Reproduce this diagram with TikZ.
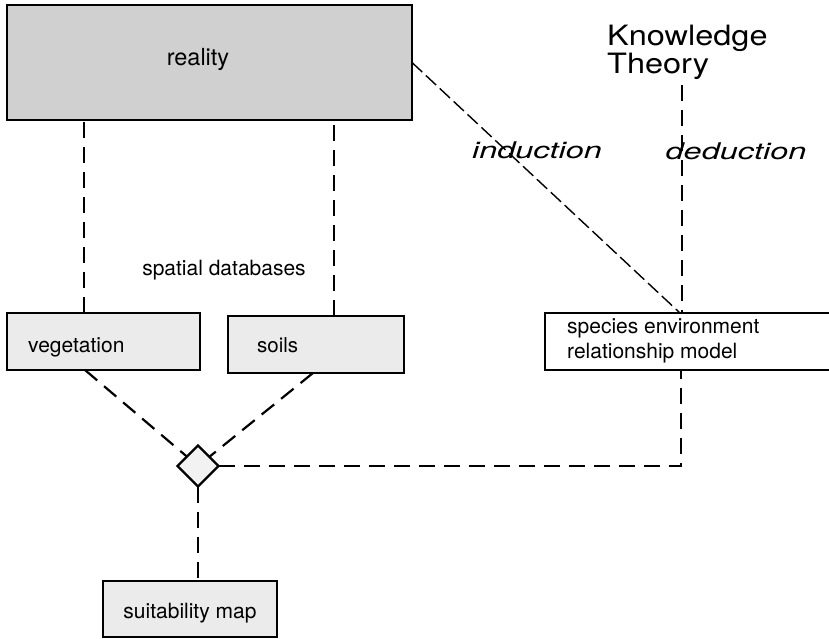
\documentclass[tikz,border=0pt]{standalone}
\usepackage{fontspec}
\setmainfont{TeX Gyre Heros}
\usetikzlibrary{shapes.geometric,calc}
\definecolor{realgray}{HTML}{D0D0D0}
\definecolor{lightbox}{HTML}{EBEBEB}
\definecolor{diafill}{HTML}{F2F2F2}
\begin{document}
\begin{tikzpicture}[x=1pt,y=-1pt,
 dl/.style={line width=2.2pt, dash pattern=on 16pt off 9pt},
 il/.style={line width=1.4pt, dash pattern=on 14pt off 5pt},
 bx/.style={draw, line width=2.2pt, anchor=north west, inner sep=0pt, outer sep=0pt},
 txt/.style={inner sep=0pt, font=\fontsize{20}{24}\selectfont},
 ]
\clip (0,0) rectangle (829,638);
\fill[white] (0,0) rectangle (829,638);
% boxes
\node[bx, fill=realgray, line width=2.6pt, minimum width=405pt, minimum height=115pt] (reality) at (7,5) {};
\node[bx, fill=lightbox, minimum width=193pt, minimum height=57pt] (veg) at (7,313) {};
\node[bx, fill=lightbox, minimum width=176pt, minimum height=57pt] (soils) at (228,316) {};
\node[bx, fill=white, line width=1.6pt, minimum width=300pt, minimum height=57pt] (species) at (545,313) {};
\node[bx, fill=lightbox, minimum width=174pt, minimum height=56pt] (suit) at (103,581) {};
\node[draw, diamond, fill=diafill, line width=2.2pt, minimum width=41pt, minimum height=41pt, inner sep=0pt, outer sep=0pt] (dia) at (198,466) {};
% texts
\node[txt, anchor=base, font=\fontsize{23.5}{27}\selectfont] (realitytxt) at (198,65) {reality};
\node[txt, anchor=base west, font=\fontsize{21}{25}\selectfont] (vegtxt) at (28,352) {vegetation};
\node[txt, anchor=base west, font=\fontsize{20.5}{25}\selectfont] (soilstxt) at (257,352) {soils};
\node[txt, anchor=base, font=\fontsize{21}{25}\selectfont] (spdb) at (224,275) {spatial databases};
\node[txt, anchor=base west, font=\fontsize{21}{25}\selectfont] (sp1) at (567,333) {species environment};
\node[txt, anchor=base west, font=\fontsize{21}{25}\selectfont] (sp2) at (567,358) {relationship model};
\node[txt, anchor=base, font=\fontsize{21}{25}\selectfont] (suittxt) at (190,618) {suitability map};
\node[txt, anchor=base west, font=\fontsize{28}{32}\selectfont] (kt1) at (607,45) {\scalebox{1.16}[1]{Knowledge}};
\node[txt, anchor=base west, font=\fontsize{28}{32}\selectfont] (kt2) at (607,73) {\scalebox{1.16}[1]{Theory}};
\node[txt, anchor=base, font=\fontsize{23}{27}\selectfont\itshape] (ind) at (537,158) {\scalebox{1.41}[1]{induction}};
\node[txt, anchor=base, font=\fontsize{23}{27}\selectfont\itshape] (ded) at (736,159) {\scalebox{1.41}[1]{deduction}};
% connectors
\coordinate (kdrop) at ([xshift=137pt]species.north west);
\draw[dl] ([xshift=-19.5pt]veg.north) -- ([xshift=-19.5pt]veg.north |- reality.south);
\draw[dl] ([xshift=18pt]soils.north) -- ([xshift=18pt]soils.north |- reality.south);
\draw[il] (reality.east) -- ([xshift=135pt]species.north west);
\draw[dl] ($(kt2.south -| kdrop)+(0,6)$) -- (kdrop);
\draw[dl] ([xshift=-18.5pt]veg.south) -- (dia);
\draw[dl] ([xshift=-3pt]soils.south) -- (dia);
\draw[dl] (dia.east) -| ([xshift=136pt]species.south west);
\draw[dl] (dia.south) -- (dia.south |- suit.north);
\end{tikzpicture}
\end{document}
